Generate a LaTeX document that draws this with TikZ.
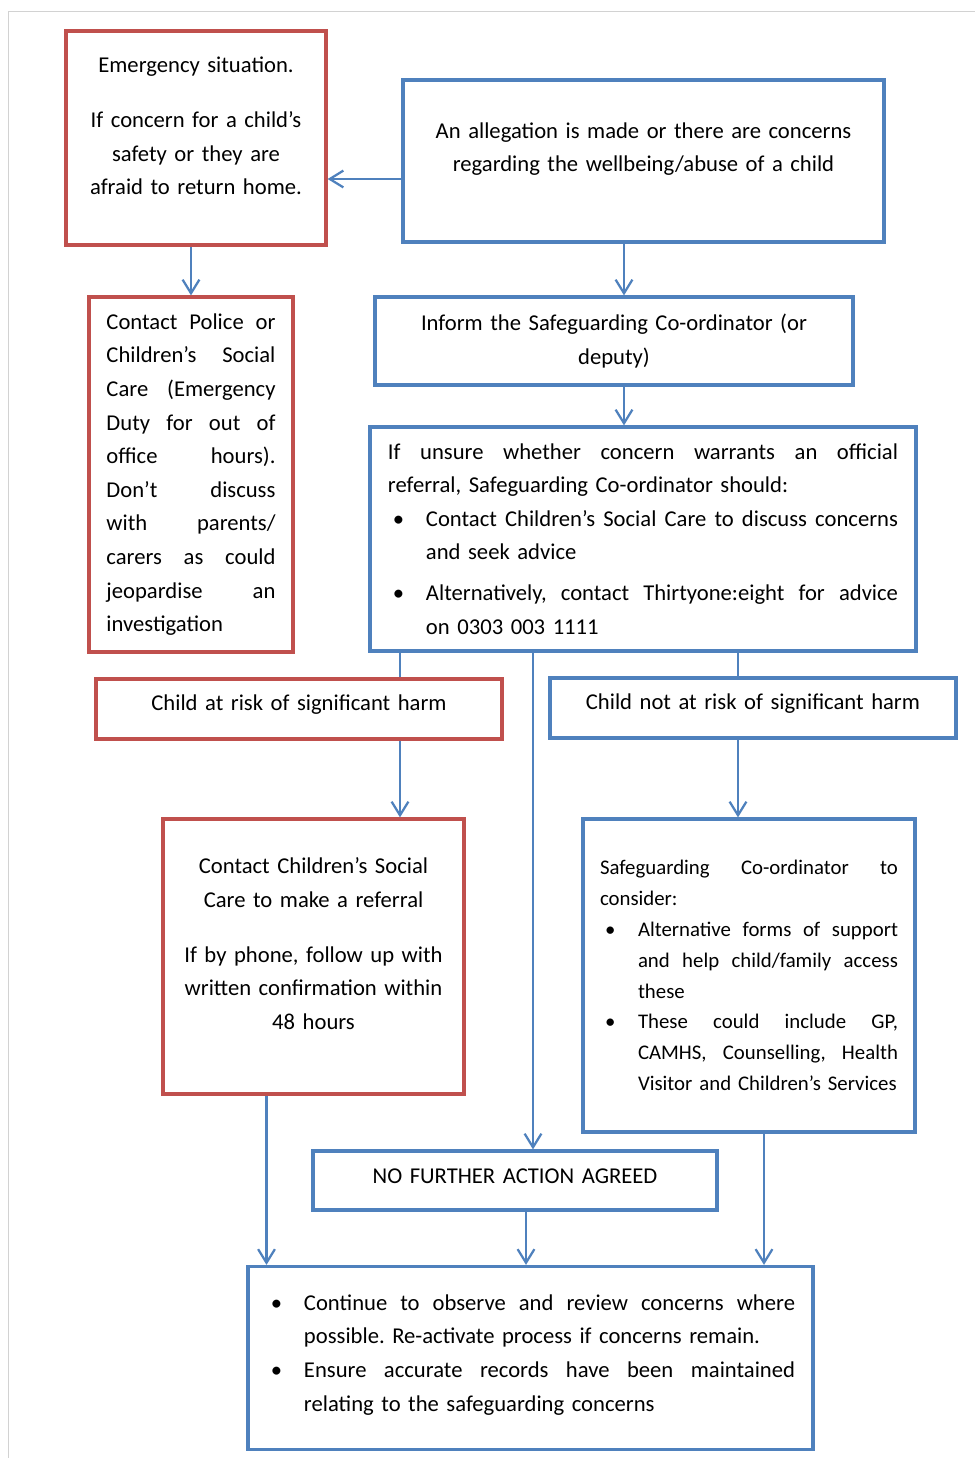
\documentclass[tikz,border=0pt]{standalone}
\usepackage{fontspec}
\setmainfont{Carlito}
\usetikzlibrary{arrows.meta,calc}
\frenchspacing

\definecolor{sgred}{HTML}{C0504D}
\definecolor{sgblue}{HTML}{4F81BD}

% justified line, bullet, indented lines
\newlength\jlw
\newcommand\jl[1]{\leavevmode\hbox to \jlw{\spaceskip=\fontdimen2\font plus 1fil\relax #1}}
\newcommand\bul{\leavevmode\makebox[9.5mm][l]{\hspace{1.25mm}\textbullet}}
\newcommand\bjl[1]{\leavevmode\hbox to \dimexpr\jlw-9.5mm\relax{\spaceskip=\fontdimen2\font plus 1fil\relax #1}}
\newcommand\bindent{\leavevmode\hspace*{9.5mm}}

\tikzset{
  box/.style={draw, line width=2.3pt, fill=white, inner sep=0pt, text=black,
    font=\fontsize{16.1}{23.9}\selectfont},
  redbox/.style={box, draw=sgred},
  bluebox/.style={box, draw=sgblue},
  sz/.style 2 args={minimum width=#1*0.25mm, minimum height=#2*0.25mm},
  jw/.style={text width=#1, align=left, execute at begin node={\setlength{\jlw}{#1}}},
  conn/.style={draw=sgblue, line width=1.6pt},
  arr/.style={conn, -{Straight Barb[length=3.4mm, width=4.2mm]}},
}

\begin{document}
\begin{tikzpicture}[x=0.25mm, y=-0.25mm]
  \useasboundingbox (0,0) rectangle (975,1458);

  %page frame
  \draw[gray!35, line width=0.7pt] (8,1458) -- (8,11) -- (975,11);

  %top row
  \node[redbox, sz={260}{214}, text width=60mm, align=center] (emerg) at (196,138)
    {Emergency situation.\\[5.35mm]If concern for a child’s\\safety or they are\\afraid to return home.\par\kern6mm};
  \node[bluebox, sz={481}{162}, text width=115mm, align=center] (alleg) at (643.5,161)
    {An allegation is made or there are concerns\\regarding the wellbeing/abuse of a child\par\kern6mm};

  %emergency route
  \node[redbox, sz={204}{355}, jw=42.25mm] (police) at (191,474.5)
    {\jl{Contact Police or}\\
     \jl{Children’s Social}\\
     \jl{Care (Emergency}\\
     \jl{Duty for out of}\\
     \jl{office hours).}\\
     \jl{Don’t discuss}\\
     \jl{with parents/}\\
     \jl{carers as could}\\
     \jl{jeopardise an}\\
     investigation};

  %co-ordinator
  \node[bluebox, sz={478}{88}, text width=110mm, align=center] (inform) at (614,341)
    {Inform the Safeguarding Co-ordinator (or\\deputy)};
  \node[bluebox, sz={546}{224}, jw=127.5mm] (unsure) at (643,539)
    {\jl{If unsure whether concern warrants an official}\\
     referral, Safeguarding Co-ordinator should:\\
     \bul\bjl{Contact Children’s Social Care to discuss concerns}\\
     \bindent and seek advice\\[1.85mm]
     \bul\bjl{Alternatively, contact Thirtyone:eight for advice}\\
     \bindent on 0303 003 1111};

  %outcomes
  \node[redbox, sz={406}{60}, text width=100mm, align=center] (risk) at (299,709)
    {Child at risk of significant harm\par\kern2mm};
  \node[bluebox, sz={406}{60}, text width=100mm, align=center] (norisk) at (753,708)
    {Child not at risk of significant harm\par\kern2mm};

  \node[redbox, sz={301}{275}, text width=72mm, align=center] (csc) at (313.5,956.5)
    {Contact Children’s Social\\Care to make a referral\\[5.35mm]If by phone, follow up with\\written confirmation within\\48 hours\par\kern6.5mm};
  \node[bluebox, sz={332}{313}, jw=74.5mm,
        font=\fontsize{14.8}{21.9}\selectfont] (sgc) at (749,975.5)
    {\jl{Safeguarding Co-ordinator to}\\
     consider:\\
     \bul\bjl{Alternative forms of support}\\
     \bindent\bjl{and help child/family access}\\
     \bindent these\\
     \bul\bjl{These could include GP,}\\
     \bindent\bjl{CAMHS, Counselling, Health}\\
     \bindent\mbox{Visitor and Children’s Services}};

  \node[bluebox, sz={404}{59}, text width=100mm, align=center] (nfa) at (515,1180.5)
    {NO FURTHER ACTION AGREED\par\kern2mm};
  \node[bluebox, sz={565}{183}, jw=132.25mm,
        font=\fontsize{16.1}{24.1}\selectfont] (cont) at (530.5,1358)
    {\bul\bjl{Continue to observe and review concerns where}\\
     \bindent possible. Re-activate process if concerns remain.\\
     \bul\bjl{Ensure accurate records have been maintained}\\
     \bindent relating to the safeguarding concerns\par\kern1.5mm};

  %connectors
  \coordinate (k0) at ($(alleg.west)+(0,18)$);
  \draw[arr] (k0) -- (k0 -| emerg.east);
  \draw[arr] (emerg.south -| police.north) -- (police.north);

  \coordinate (k1) at ($(inform.north)+(10,0)$);
  \draw[arr] (k1 |- alleg.south) -- (k1);
  \draw[arr] (k1 |- inform.south) -- (k1 |- unsure.north);

  \coordinate (k2) at ($(risk.north)+(101,0)$);
  \draw[conn] (k2 |- unsure.south) -- (k2);
  \draw[arr] (k2 |- risk.south) -- (k2 |- csc.north);

  \coordinate (k3) at ($(nfa.north)+(18,0)$);
  \draw[arr] (k3 |- unsure.south) -- (k3);

  \coordinate (k4) at ($(norisk.north)+(-15,0)$);
  \draw[conn] (k4 |- unsure.south) -- (k4);
  \draw[arr] (k4 |- norisk.south) -- (k4 |- sgc.north);

  \coordinate (k5) at ($(csc.south)+(-47,0)$);
  \draw[arr] (k5) -- (k5 |- cont.north);
  \coordinate (k6) at ($(nfa.south)+(11,0)$);
  \draw[arr] (k6) -- (k6 |- cont.north);
  \coordinate (k7) at ($(sgc.south)+(15,0)$);
  \draw[arr] (k7) -- (k7 |- cont.north);

\end{tikzpicture}
\end{document}
